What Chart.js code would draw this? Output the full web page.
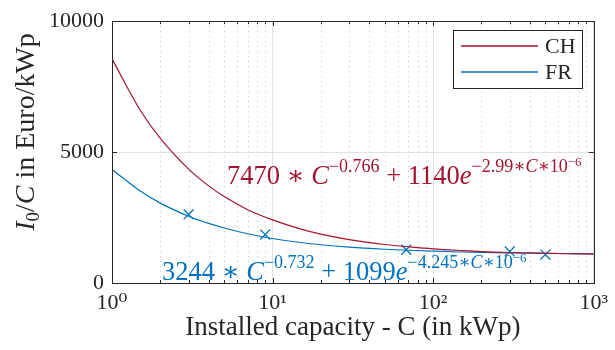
<!DOCTYPE html>
<html>
<head>
<meta charset="utf-8">
<script src="https://cdn.jsdelivr.net/npm/chart.js@4.4.1/dist/chart.umd.min.js"></script>
<style>
html,body{margin:0;padding:0;background:#fff;}
#wrap{width:615px;height:350px;}
</style>
</head>
<body>
<div id="wrap"><canvas id="c" width="615" height="350"></canvas></div>
<script>
// Installed capacity (kWp) at which the fitted curves were read
const capacity = [1, 1.5, 2, 3, 4, 5, 7, 10, 15, 20, 30, 50, 70, 100, 150, 200, 300, 500, 700, 1000];
// Specific investment cost I0/C (Euro/kWp)
const costCH = [8560, 6600, 5520, 4350, 3710, 3300, 2800, 2410, 2060, 1870, 1660, 1470, 1385, 1305, 1240, 1200, 1165, 1135, 1118, 1105];
const costFR = [4340, 3510, 3050, 2550, 2275, 2100, 1880, 1700, 1546, 1460, 1370, 1290, 1250, 1215, 1185, 1168, 1150, 1135, 1125, 1115];
// Surveyed FR systems (markers)
const surveyCapFR = [3, 9, 68, 300, 500];
const surveyCostFR = [2620, 1850, 1270, 1205, 1085];
// Axis ticks
const xTicks = [1, 10, 100, 1000];
const xTickLabels = ['10\u2070', '10\u00B9', '10\u00B2', '10\u00B3'];
const yTicks = [0, 5000, 10000];
const yTickLabels = ['0', '5000', '10000'];
const seriesNames = ['CH', 'FR'];

const RED = '#A2142F', BLUE = '#0072BD', AX = '#262626';
const SERIF = '"Liberation Serif", "DejaVu Serif", serif';

const pts = (xs, ys) => xs.map((x, i) => ({x: x, y: ys[i]}));

function drawRich(ctx, x, y, segs, color) {
  ctx.save();
  ctx.fillStyle = color;
  ctx.textBaseline = 'alphabetic';
  ctx.textAlign = 'left';
  let cx = x;
  for (const s of segs) {
    ctx.font = (s.it ? 'italic ' : '') + s.sz + 'px ' + SERIF;
    ctx.fillText(s.t, cx, y + (s.dy || 0));
    cx += ctx.measureText(s.t).width + (s.gap || 0);
  }
  ctx.restore();
  return cx - x;
}

const decor = {
  id: 'decor',
  beforeDatasetsDraw(chart) {
    const ctx = chart.ctx, a = chart.chartArea, xs = chart.scales.x;
    ctx.save();
    ctx.strokeStyle = '#c4c4c4';
    ctx.lineWidth = 1;
    ctx.setLineDash([1, 4]);
    for (let d = 1; d < 1000; d *= 10) {
      for (let m = 2; m <= 9; m++) {
        const px = Math.round(xs.getPixelForValue(d * m)) + 0.5;
        ctx.beginPath(); ctx.moveTo(px, a.top); ctx.lineTo(px, a.bottom); ctx.stroke();
      }
    }
    ctx.restore();
  },
  afterDraw(chart) {
    const ctx = chart.ctx, a = chart.chartArea, xs = chart.scales.x, ys = chart.scales.y;
    ctx.save();
    // frame
    ctx.strokeStyle = AX; ctx.lineWidth = 1; ctx.setLineDash([]);
    ctx.strokeRect(Math.round(a.left) + 0.5, Math.round(a.top) + 0.5, Math.round(a.right - a.left), Math.round(a.bottom - a.top));
    // ticks inward
    ctx.beginPath();
    for (let d = 1; d <= 1000; d *= 10) {
      for (let m = 1; m <= 9; m++) {
        const v = d * m; if (v > 1000) break;
        const px = Math.round(xs.getPixelForValue(v)) + 0.5;
        const L = m === 1 ? 5 : 3;
        ctx.moveTo(px, a.bottom); ctx.lineTo(px, a.bottom - L);
        ctx.moveTo(px, a.top); ctx.lineTo(px, a.top + L);
      }
    }
    for (const v of yTicks) {
      const py = Math.round(ys.getPixelForValue(v)) + 0.5;
      ctx.moveTo(a.left, py); ctx.lineTo(a.left + 5, py);
      ctx.moveTo(a.right, py); ctx.lineTo(a.right - 5, py);
    }
    ctx.stroke();

    // legend
    const lx = 453, ly = 30, lw = 129, lh = 58;
    ctx.fillStyle = '#fff';
    ctx.fillRect(lx, ly, lw, lh);
    ctx.strokeStyle = AX; ctx.lineWidth = 1;
    ctx.strokeRect(lx + 0.5, ly + 0.5, lw, lh);
    const legColors = [RED, BLUE];
    seriesNames.forEach((n, i) => {
      const yy = 46 + i * 26;
      ctx.strokeStyle = legColors[i]; ctx.lineWidth = 1.3;
      ctx.beginPath(); ctx.moveTo(461, yy); ctx.lineTo(538, yy); ctx.stroke();
      ctx.fillStyle = AX; ctx.font = '22px ' + SERIF; ctx.textBaseline = 'alphabetic';
      ctx.fillText(n, 545, 53 + i * 26);
    });

    // formulas
    const B = 26.5, S = 18, SS = 13;
    drawRich(ctx, 227, 184, [
      {t: '7470 \u2217 ', sz: B},
      {t: 'C', sz: B, it: true},
      {t: '\u22120.766', sz: S, dy: -12},
      {t: ' + 1140', sz: B},
      {t: 'e', sz: B, it: true},
      {t: '\u22122.99\u2217', sz: S, dy: -12},
      {t: 'C', sz: S, dy: -12, it: true},
      {t: '\u221710', sz: S, dy: -12},
      {t: '\u22126', sz: SS, dy: -18}
    ], RED);
    drawRich(ctx, 162, 280, [
      {t: '3244 \u2217 ', sz: B},
      {t: 'C', sz: B, it: true},
      {t: '\u22120.732', sz: S, dy: -12},
      {t: ' + 1099', sz: B},
      {t: 'e', sz: B, it: true},
      {t: '\u22124.245\u2217', sz: S, dy: -12},
      {t: 'C', sz: S, dy: -12, it: true},
      {t: '\u221710', sz: S, dy: -12},
      {t: '\u22126', sz: SS, dy: -18}
    ], BLUE);

    // y title (rotated)
    ctx.save();
    ctx.translate(34, 132);
    ctx.rotate(-Math.PI / 2);
    const segs = [
      {t: 'I', sz: 28, it: true},
      {t: '0', sz: 19, dy: 5},
      {t: '/', sz: 28},
      {t: 'C', sz: 28, it: true},
      {t: ' in Euro/kWp', sz: 28}
    ];
    let w = 0;
    for (const s of segs) { ctx.font = (s.it ? 'italic ' : '') + s.sz + 'px ' + SERIF; w += ctx.measureText(s.t).width; }
    drawRich(ctx, -w / 2, 0, segs, AX);
    ctx.restore();
    ctx.restore();
  }
};

new Chart(document.getElementById('c'), {
  type: 'line',
  data: {
    datasets: [
      {label: seriesNames[0], data: pts(capacity, costCH), borderColor: RED, borderWidth: 1.2, pointRadius: 0, cubicInterpolationMode: 'monotone', fill: false},
      {label: seriesNames[1], data: pts(capacity, costFR), borderColor: BLUE, borderWidth: 1.2, pointRadius: 0, cubicInterpolationMode: 'monotone', fill: false},
      {label: 'FR survey', data: pts(surveyCapFR, surveyCostFR), showLine: false, pointStyle: 'crossRot', pointRadius: 7, pointBorderColor: BLUE, pointBorderWidth: 1.3, borderColor: BLUE}
    ]
  },
  options: {
    responsive: false,
    animation: false,
    events: [],
    layout: {padding: {left: 0, right: 14, top: 15, bottom: 0}},
    plugins: {legend: {display: false}, tooltip: {enabled: false}},
    scales: {
      x: {
        type: 'logarithmic', min: 1, max: 1000,
        afterBuildTicks: s => { s.ticks = xTicks.map(v => ({value: v})); },
        afterFit: s => { s.height = 67; },
        ticks: {
          callback: (v) => { const i = xTicks.indexOf(v); return i >= 0 ? xTickLabels[i] : ''; },
          font: {family: SERIF, size: 22}, color: AX, padding: 7, maxRotation: 0, autoSkip: false
        },
        grid: {color: '#e2e2e2', drawTicks: false, lineWidth: 1},
        border: {display: false},
        title: {display: true, text: 'Installed capacity - C (in kWp)', font: {family: SERIF, size: 27}, color: AX, padding: {top: 0, bottom: 6}}
      },
      y: {
        min: 0, max: 10000,
        afterBuildTicks: s => { s.ticks = yTicks.map(v => ({value: v})); },
        afterFit: s => { s.width = 112; },
        ticks: {
          callback: (v) => { const i = yTicks.indexOf(v); return i >= 0 ? yTickLabels[i] : ''; },
          font: {family: SERIF, size: 22}, color: AX, padding: 8
        },
        grid: {color: '#e2e2e2', drawTicks: false, lineWidth: 1},
        border: {display: false}
      }
    }
  },
  plugins: [decor]
});
</script>
</body>
</html>
